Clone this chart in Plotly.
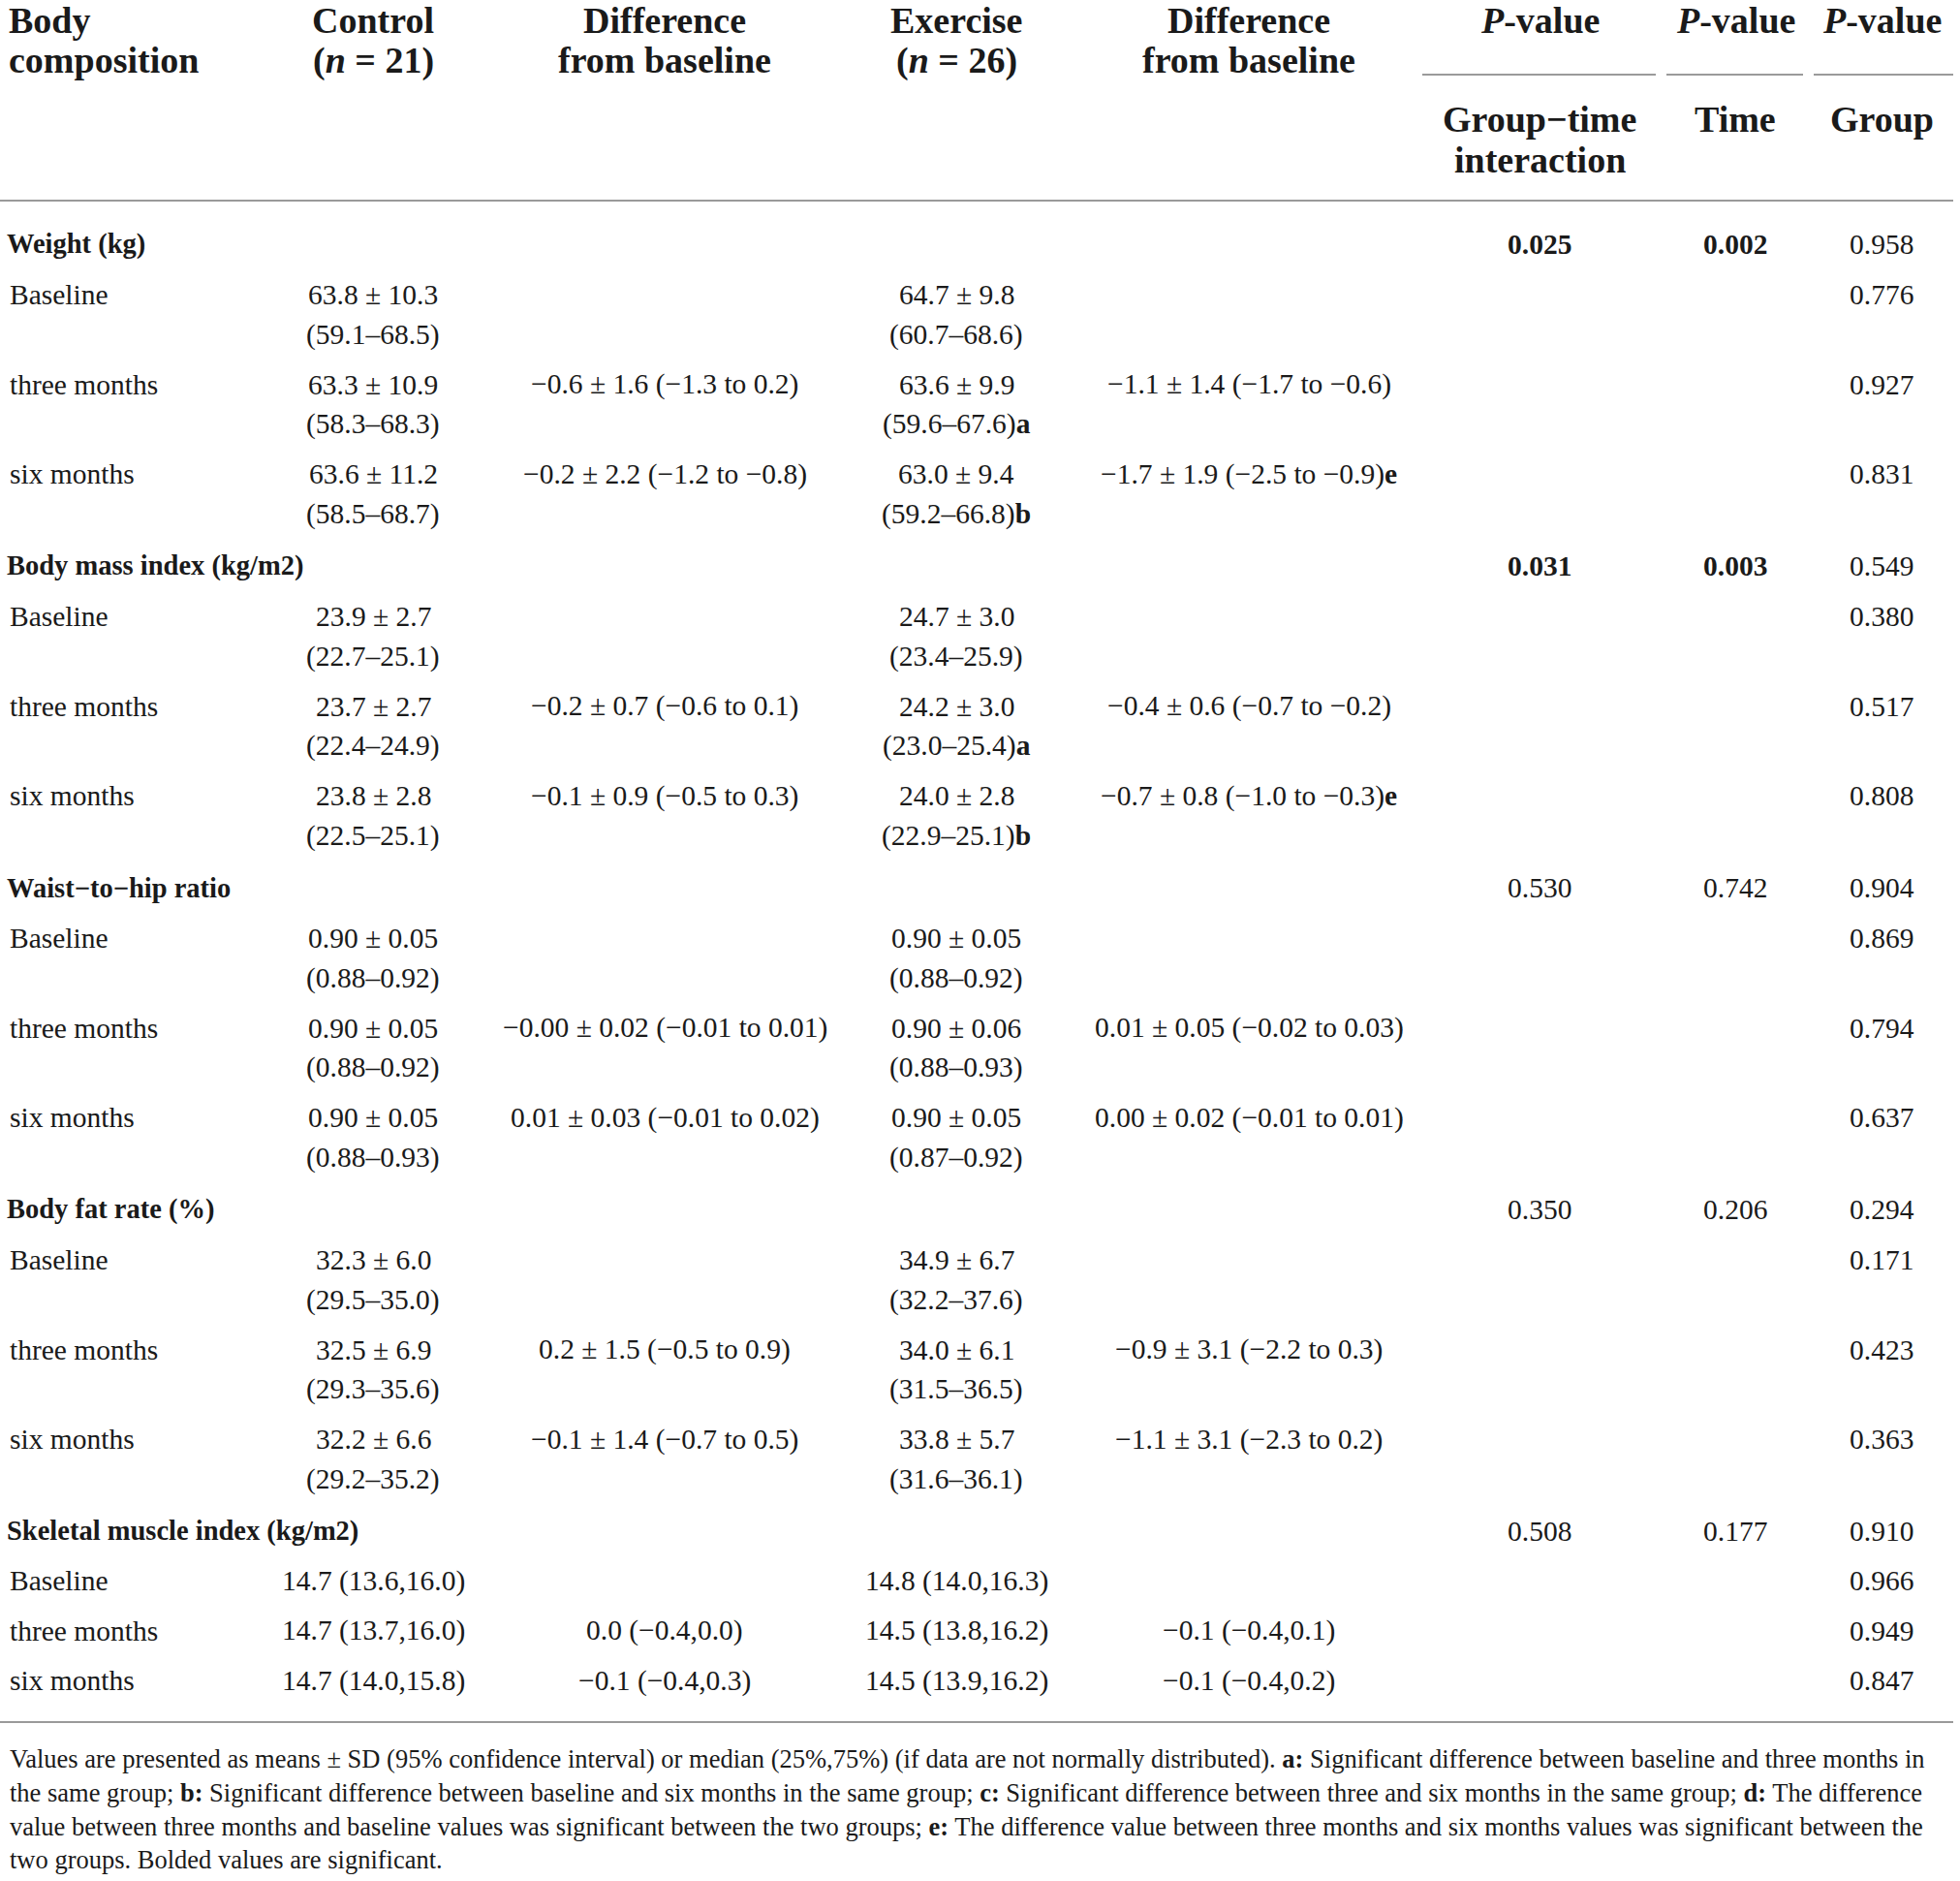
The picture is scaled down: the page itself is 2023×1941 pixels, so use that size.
import plotly.graph_objects as go

# ---------------- data ----------------
sections = ["Weight (kg)", "Body mass index (kg/m2)", "Waist\u2212to\u2212hip ratio",
            "Body fat rate (%)", "Skeletal muscle index (kg/m2)"]
timepoints = ["Baseline", "three months", "six months"]

p_interaction = ["0.025", "0.031", "0.530", "0.350", "0.508"]
p_interaction_bold = [True, True, False, False, False]
p_time = ["0.002", "0.003", "0.742", "0.206", "0.177"]
p_time_bold = [True, True, False, False, False]
p_group = ["0.958", "0.549", "0.904", "0.294", "0.910"]
p_group_by_time = [["0.776", "0.927", "0.831"],
                   ["0.380", "0.517", "0.808"],
                   ["0.869", "0.794", "0.637"],
                   ["0.171", "0.423", "0.363"],
                   ["0.966", "0.949", "0.847"]]

control_main = [["63.8 \u00b1 10.3", "63.3 \u00b1 10.9", "63.6 \u00b1 11.2"],
                ["23.9 \u00b1 2.7", "23.7 \u00b1 2.7", "23.8 \u00b1 2.8"],
                ["0.90 \u00b1 0.05", "0.90 \u00b1 0.05", "0.90 \u00b1 0.05"],
                ["32.3 \u00b1 6.0", "32.5 \u00b1 6.9", "32.2 \u00b1 6.6"],
                ["14.7 (13.6,16.0)", "14.7 (13.7,16.0)", "14.7 (14.0,15.8)"]]
control_ci = [["(59.1\u201368.5)", "(58.3\u201368.3)", "(58.5\u201368.7)"],
              ["(22.7\u201325.1)", "(22.4\u201324.9)", "(22.5\u201325.1)"],
              ["(0.88\u20130.92)", "(0.88\u20130.92)", "(0.88\u20130.93)"],
              ["(29.5\u201335.0)", "(29.3\u201335.6)", "(29.2\u201335.2)"],
              ["", "", ""]]
control_diff = [["", "\u22120.6 \u00b1 1.6 (\u22121.3 to 0.2)", "\u22120.2 \u00b1 2.2 (\u22121.2 to \u22120.8)"],
                ["", "\u22120.2 \u00b1 0.7 (\u22120.6 to 0.1)", "\u22120.1 \u00b1 0.9 (\u22120.5 to 0.3)"],
                ["", "\u22120.00 \u00b1 0.02 (\u22120.01 to 0.01)", "0.01 \u00b1 0.03 (\u22120.01 to 0.02)"],
                ["", "0.2 \u00b1 1.5 (\u22120.5 to 0.9)", "\u22120.1 \u00b1 1.4 (\u22120.7 to 0.5)"],
                ["", "0.0 (\u22120.4,0.0)", "\u22120.1 (\u22120.4,0.3)"]]

exercise_main = [["64.7 \u00b1 9.8", "63.6 \u00b1 9.9", "63.0 \u00b1 9.4"],
                 ["24.7 \u00b1 3.0", "24.2 \u00b1 3.0", "24.0 \u00b1 2.8"],
                 ["0.90 \u00b1 0.05", "0.90 \u00b1 0.06", "0.90 \u00b1 0.05"],
                 ["34.9 \u00b1 6.7", "34.0 \u00b1 6.1", "33.8 \u00b1 5.7"],
                 ["14.8 (14.0,16.3)", "14.5 (13.8,16.2)", "14.5 (13.9,16.2)"]]
exercise_ci = [["(60.7\u201368.6)", "(59.6\u201367.6)", "(59.2\u201366.8)"],
               ["(23.4\u201325.9)", "(23.0\u201325.4)", "(22.9\u201325.1)"],
               ["(0.88\u20130.92)", "(0.88\u20130.93)", "(0.87\u20130.92)"],
               ["(32.2\u201337.6)", "(31.5\u201336.5)", "(31.6\u201336.1)"],
               ["", "", ""]]
exercise_ci_mark = [["", "a", "b"], ["", "a", "b"], ["", "", ""], ["", "", ""], ["", "", ""]]
exercise_diff = [["", "\u22121.1 \u00b1 1.4 (\u22121.7 to \u22120.6)", "\u22121.7 \u00b1 1.9 (\u22122.5 to \u22120.9)"],
                 ["", "\u22120.4 \u00b1 0.6 (\u22120.7 to \u22120.2)", "\u22120.7 \u00b1 0.8 (\u22121.0 to \u22120.3)"],
                 ["", "0.01 \u00b1 0.05 (\u22120.02 to 0.03)", "0.00 \u00b1 0.02 (\u22120.01 to 0.01)"],
                 ["", "\u22120.9 \u00b1 3.1 (\u22122.2 to 0.3)", "\u22121.1 \u00b1 3.1 (\u22122.3 to 0.2)"],
                 ["", "\u22120.1 (\u22120.4,0.1)", "\u22120.1 (\u22120.4,0.2)"]]
exercise_diff_mark = [["", "", "e"], ["", "", "e"], ["", "", ""], ["", "", ""], ["", "", ""]]

header_line1 = ["<b>Body</b>", "<b>Control</b>", "<b>Difference</b>", "<b>Exercise</b>", "<b>Difference</b>",
                "<b><i>P</i>-value</b>", "<b><i>P</i>-value</b>", "<b><i>P</i>-value</b>"]
header_line2 = ["<b>composition</b>", "<b>(<i>n</i> = 21)</b>", "<b>from baseline</b>",
                "<b>(<i>n</i> = 26)</b>", "<b>from baseline</b>", "", "", ""]
subheader_line1 = ["<b>Group\u2212time</b>", "<b>Time</b>", "<b>Group</b>"]
subheader_line2 = ["<b>interaction</b>", "", ""]

footnote_lines = [
    "Values are presented as means \u00b1 SD (95% confidence interval) or median (25%,75%) (if data are not normally distributed). <b>a:</b> Significant difference between baseline and three months in",
    "the same group; <b>b:</b> Significant difference between baseline and six months in the same group; <b>c:</b> Significant difference between three and six months in the same group; <b>d:</b> The difference",
    "value between three months and baseline values was significant between the two groups; <b>e:</b> The difference value between three months and six months values was significant between the",
    "two groups. Bolded values are significant.",
]

# ---------------- layout constants ----------------
W, H = 2023, 1941
FONT = "Liberation Serif"
TXT = "#1a1a1a"
RULE = "#9a9a9a"
BODY = 29.5
SECT = 28.5
HEAD = 38
FOOT = 26.5

col_x = [8, 385, 686, 987, 1289, 1589, 1791, 1942]
X_SEC, X_ROW = 6, 9
HY1, HY2 = 21, 62
SY1, SY2 = 123, 165
UNDER_Y = 77
HEAD_RULE_Y = 207
BOTTOM_RULE_Y = 1777
SEC_Y0, SEC_STEP = 252, 332
ROW_OFF = [52, 144.6, 237.2]
ROW_OFF_SINGLE = [51, 102.5, 154]
LINE2 = 41.3
FOOT_Y0, FOOT_STEP = 1815, 34.8
TABLE_RIGHT = 2016
underlines = [(1468, 1709), (1720, 1861), (1872, 2016)]

fig = go.Figure()


def txt(x, y, s, size=BODY, anchor="center"):
    if not s:
        return
    fig.add_annotation(x=x, y=y, xref="x", yref="y", text=s, showarrow=False,
                       xanchor=anchor, yanchor="middle", borderpad=0,
                       font=dict(family=FONT, size=size, color=TXT))


def bold_if(s, flag):
    return f"<b>{s}</b>" if flag else s


# header
for i, (a, b) in enumerate(zip(header_line1, header_line2)):
    anchor = "left" if i == 0 else "center"
    txt(col_x[i], HY1, a, HEAD, anchor)
    txt(col_x[i], HY2, b, HEAD, anchor)
for j, (a, b) in enumerate(zip(subheader_line1, subheader_line2)):
    txt(col_x[5 + j], SY1, a, HEAD)
    txt(col_x[5 + j], SY2, b, HEAD)

# body
for s, name in enumerate(sections):
    ys = SEC_Y0 + s * SEC_STEP
    txt(X_SEC, ys, f"<b>{name}</b>", SECT, "left")
    txt(col_x[5], ys, bold_if(p_interaction[s], p_interaction_bold[s]))
    txt(col_x[6], ys, bold_if(p_time[s], p_time_bold[s]))
    txt(col_x[7], ys, p_group[s])
    two_line = any(control_ci[s])
    offs = ROW_OFF if two_line else ROW_OFF_SINGLE
    for t, tp in enumerate(timepoints):
        y = ys + offs[t]
        txt(X_ROW, y, tp, BODY, "left")
        txt(col_x[1], y, control_main[s][t])
        txt(col_x[1], y + LINE2, control_ci[s][t])
        txt(col_x[2], y, control_diff[s][t])
        txt(col_x[3], y, exercise_main[s][t])
        ci = exercise_ci[s][t]
        if ci:
            mk = exercise_ci_mark[s][t]
            txt(col_x[3], y + LINE2, ci + (f"<b>{mk}</b>" if mk else ""))
        d = exercise_diff[s][t]
        if d:
            mk = exercise_diff_mark[s][t]
            txt(col_x[4], y, d + (f"<b>{mk}</b>" if mk else ""))
        txt(col_x[7], y, p_group_by_time[s][t])

# footnote
for k, line in enumerate(footnote_lines):
    txt(X_ROW, FOOT_Y0 + k * FOOT_STEP, line, FOOT, "left")

# rules
for x0, x1 in underlines:
    fig.add_shape(type="line", x0=x0, x1=x1, y0=UNDER_Y, y1=UNDER_Y, xref="x", yref="y",
                  line=dict(color=RULE, width=2))
for yy in (HEAD_RULE_Y, BOTTOM_RULE_Y):
    fig.add_shape(type="line", x0=0, x1=TABLE_RIGHT, y0=yy, y1=yy, xref="x", yref="y",
                  line=dict(color=RULE, width=2))

fig.update_xaxes(range=[0, W], visible=False, fixedrange=True)
fig.update_yaxes(range=[H, 0], visible=False, fixedrange=True)
fig.update_layout(width=W, height=H, autosize=False,
                  margin=dict(l=0, r=0, t=0, b=0),
                  paper_bgcolor="white", plot_bgcolor="white",
                  showlegend=False)

fig.write_html("out.html", config={"displayModeBar": False, "staticPlot": True},
               post_script="document.body.style.margin='0';document.body.style.overflow='hidden';")
